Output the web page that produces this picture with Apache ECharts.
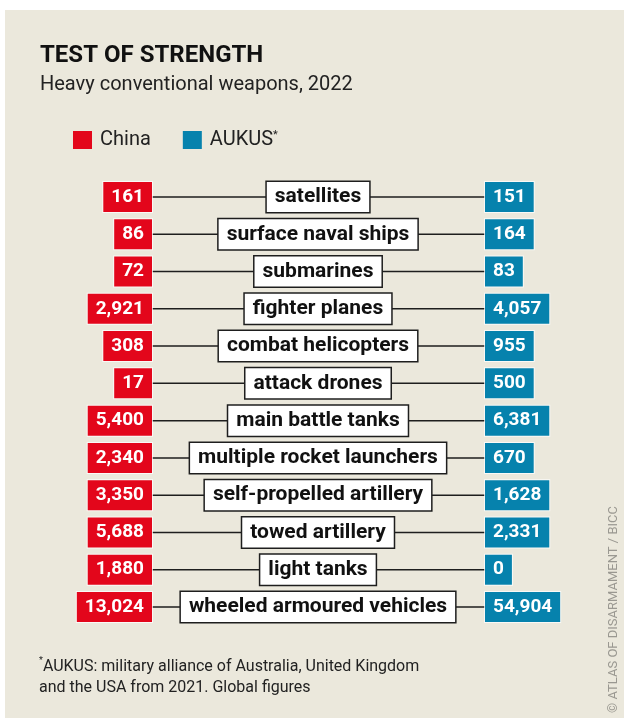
<!DOCTYPE html>
<html>
<head>
<meta charset="utf-8">
<script src="https://cdn.jsdelivr.net/npm/echarts@6/dist/echarts.min.js"></script>
<style>
  html, body { margin: 0; padding: 0; background: #fff; }
  #chart { width: 624px; height: 718px; }
</style>
</head>
<body>
<div id="chart"></div>
<script>
// ---- data ----
const categories = [
  'satellites', 'surface naval ships', 'submarines', 'fighter planes',
  'combat helicopters', 'attack drones', 'main battle tanks',
  'multiple rocket launchers', 'self-propelled artillery', 'towed artillery',
  'light tanks', 'wheeled armoured vehicles'
];
const chinaValues = [161, 86, 72, 2921, 308, 17, 5400, 2340, 3350, 5688, 1880, 13024];
const aukusValues = [151, 164, 83, 4057, 955, 500, 6381, 670, 1628, 2331, 0, 54904];

// ---- styles ----
const RED = '#e3061b';
const BLUE = '#0682ad';
const BG = '#ebe8dc';
const FONT = 'Roboto';
const LEFT_X = 152;   // right edge of China boxes
const MID_X = 318;    // centre of category boxes
const RIGHT_X = 485;  // left edge of AUKUS boxes

const fmt = v => v.toLocaleString('en-US');

function valueBox(api, color, align, x) {
  const y = api.coord([0, api.value(1)])[1];
  return {
    type: 'text',
    style: {
      text: fmt(api.value(0)),
      x: x, y: y,
      align: align, verticalAlign: 'middle',
      fill: '#fff',
      font: 'bold 19px ' + FONT,
      lineHeight: 20,
      backgroundColor: color,
      borderColor: 'rgba(255,255,255,0.75)',
      borderWidth: 1,
      padding: [5, 8, 5, 8]
    }
  };
}

const chart = echarts.init(document.getElementById('chart'), null, { renderer: 'canvas' });

chart.setOption({
  backgroundColor: '#fff',
  animation: false,
  title: [
    { text: 'TEST OF STRENGTH', left: 40, top: 44, padding: 0,
      textStyle: { fontFamily: FONT, fontSize: 24, fontWeight: 'bold', color: '#111' } },
    { text: 'Heavy conventional weapons, 2022', left: 40, top: 75, padding: 0,
      textStyle: { fontFamily: FONT, fontSize: 20, fontWeight: 'normal', color: '#222' } },
    { text: '{s|*}AUKUS: military alliance of Australia, United Kingdom\nand the USA from 2021. Global figures',
      left: 39, top: 656, padding: 0,
      textStyle: { fontFamily: FONT, fontSize: 16, fontWeight: 'normal', color: '#222', lineHeight: 21,
        rich: { s: { fontFamily: FONT, fontSize: 9, color: '#222', verticalAlign: 'top', padding: [0, 0, 8, 0] } } } }
  ],
  legend: {
    data: ['China', 'AUKUS'],
    left: 73, top: 130, padding: 0,
    icon: 'rect', itemWidth: 19, itemHeight: 18, itemGap: 32,
    selectedMode: false,
    formatter: n => n === 'AUKUS' ? 'AUKUS{s|*}' : n,
    textStyle: { fontFamily: FONT, fontSize: 20, color: '#222', padding: [0, 0, 0, 3],
      rich: { s: { fontFamily: FONT, fontSize: 11, color: '#222', padding: [0, 0, 9, 0] } } }
  },
  graphic: [
    { type: 'rect', z: -10, silent: true, shape: { x: 5, y: 10, width: 619, height: 708 }, style: { fill: BG } },
    { type: 'text', x: 614, y: 713, rotation: Math.PI / 2, silent: true,
      style: { text: '\u00A9 ATLAS OF DISARMAMENT / BICC', font: '13px ' + FONT, fill: '#9a9891',
        align: 'left', verticalAlign: 'middle' } }
  ],
  grid: { left: 0, right: 0, top: 197, bottom: 111 },
  xAxis: { type: 'value', min: 0, max: 624, show: false },
  yAxis: { type: 'category', data: categories, inverse: true, boundaryGap: false, show: false },
  series: [
    {
      name: 'rows', type: 'custom', clip: false, z: 1,
      data: categories.map((c, i) => [0, i]),
      renderItem: (params, api) => {
        const i = api.value(1);
        const y = api.coord([0, i])[1];
        return {
          type: 'group',
          children: [
            { type: 'line', shape: { x1: LEFT_X, y1: y, x2: RIGHT_X, y2: y },
              style: { stroke: '#1e1e1e', lineWidth: 1.5 } },
            { type: 'text', z2: 5,
              style: { text: categories[i], x: MID_X, y: y, align: 'center', verticalAlign: 'middle',
                fill: '#111', font: 'bold 21px ' + FONT, lineHeight: 20,
                backgroundColor: '#fff', borderColor: '#1e1e1e', borderWidth: 1.5,
                padding: [5, 8, 5, 8] } }
          ]
        };
      }
    },
    {
      name: 'China', type: 'custom', clip: false, z: 2,
      itemStyle: { color: RED },
      data: chinaValues.map((v, i) => [v, i]),
      renderItem: (params, api) => valueBox(api, RED, 'right', LEFT_X)
    },
    {
      name: 'AUKUS', type: 'custom', clip: false, z: 2,
      itemStyle: { color: BLUE },
      data: aukusValues.map((v, i) => [v, i]),
      renderItem: (params, api) => valueBox(api, BLUE, 'left', RIGHT_X)
    }
  ]
});
</script>
</body>
</html>
